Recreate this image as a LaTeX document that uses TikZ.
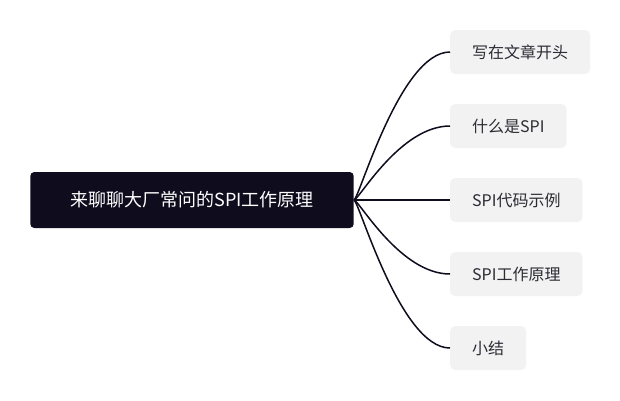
\documentclass[tikz,border=0pt]{standalone}
\usepackage{fontspec}
\setmainfont{Noto Sans CJK SC}
\usepackage{xcolor}
\usepackage{tikz}
\definecolor{rootbg}{HTML}{0F0C1E}
\definecolor{leafbg}{HTML}{F2F2F3}
\definecolor{leaftext}{HTML}{2B2B33}
\tikzset{
rootbox/.style={
  rectangle, rounded corners=4pt,
  fill=rootbg, text=white,
  inner xsep=40pt, minimum height=56pt,
  font=\fontsize{18}{21}\selectfont
},
leafbox/.style={
  rectangle, rounded corners=5pt,
  fill=leafbg, text=leaftext,
  inner xsep=22pt, minimum height=44pt,
  anchor=west, font=\fontsize{16}{19}\selectfont
},
link/.style={draw=rootbg, line width=1.5pt}
}

\begin{document}
\begin{tikzpicture}[x=1pt,y=-1pt]
\useasboundingbox (0,0) rectangle (620,400);
\node[rootbox] (root) at (192,200) {来聊聊大厂常问的SPI工作原理};
\node[leafbox] (intro) at (450,52) {写在文章开头};
\node[leafbox] (what) at (450,126) {什么是SPI};
\node[leafbox] (demo) at (450,200) {SPI代码示例};
\node[leafbox] (principle) at (450,274) {SPI工作原理};
\node[leafbox] (summary) at (450,348) {小结};
% the branches
\foreach \leaf in {intro,what,demo,principle,summary}
{
  \draw[link] 
    (root.east) .. controls +(5,0) and +(-50,0) .. (\leaf.west);
}
\end{tikzpicture}
\end{document}
